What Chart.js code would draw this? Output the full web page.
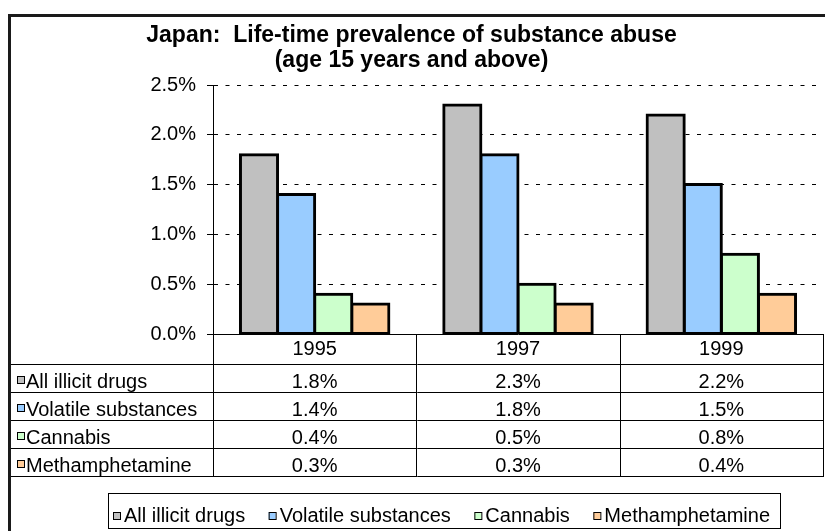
<!DOCTYPE html>
<html>
<head>
<meta charset="utf-8">
<script src="https://cdn.jsdelivr.net/npm/chart.js@4.4.0/dist/chart.umd.min.js"></script>
<style>
html,body{margin:0;padding:0;background:#fff;}
#wrap{width:825px;height:531px;}
</style>
</head>
<body>
<div id="wrap"><canvas id="c" width="825" height="531"></canvas></div>
<script>
const titleLines = ['Japan:  Life-time prevalence of substance abuse', '(age 15 years and above)'];
const years = ['1995', '1997', '1999'];
const seriesNames = ['All illicit drugs', 'Volatile substances', 'Cannabis', 'Methamphetamine'];
const allIllicit = [1.8, 2.3, 2.2];
const volatileSubst = [1.4, 1.8, 1.5];
const cannabis = [0.4, 0.5, 0.8];
const methamphetamine = [0.3, 0.3, 0.4];
const yTickValues = [0, 0.5, 1.0, 1.5, 2.0, 2.5];
const seriesColors = ['#C0C0C0', '#99CCFF', '#CCFFCC', '#FFCC99'];

const FONT = '"Liberation Sans", Arial, sans-serif';
const seriesValues = [allIllicit, volatileSubst, cannabis, methamphetamine];

const bgPlugin = {
  id: 'bg',
  beforeDraw(chart) {
    const ctx = chart.ctx;
    ctx.save();
    ctx.fillStyle = '#fff';
    ctx.fillRect(0, 0, chart.width, chart.height);
    ctx.restore();
  }
};

const tablePlugin = {
  id: 'dataTable',
  afterDraw(chart) {
    const ctx = chart.ctx, ca = chart.chartArea, xs = chart.scales.x;
    const headerH = 30, rowH = 28, frameX = 11;
    const ds = chart.data.datasets;
    const n = chart.data.labels.length;
    const top = ca.bottom, hdrBottom = top + headerH;
    const bottom = hdrBottom + rowH * ds.length;
    const half = (xs.getPixelForValue(1) - xs.getPixelForValue(0)) / 2;
    ctx.save();
    // outer frame
    ctx.fillStyle = '#1a1a1a';
    ctx.fillRect(8, 14, 3, chart.height);
    ctx.fillRect(8, 14, chart.width, 3);
    // grid of table
    ctx.strokeStyle = '#000';
    ctx.lineWidth = 1;
    ctx.beginPath();
    const vx = [ca.left];
    for (let i = 0; i < n; i++) vx.push(xs.getPixelForValue(i) + half);
    vx.forEach(x => { const px = Math.round(x) + 0.5; ctx.moveTo(px, top); ctx.lineTo(px, bottom + 0.5); });
    for (let r = 0; r <= ds.length; r++) {
      const y = Math.round(hdrBottom + r * rowH) + 0.5;
      ctx.moveTo(frameX, y); ctx.lineTo(Math.round(ca.right) + 1, y);
    }
    ctx.stroke();
    // cells
    ctx.font = '20px ' + FONT;
    ctx.textBaseline = 'alphabetic';
    ds.forEach((d, r) => {
      const rowTop = hdrBottom + r * rowH;
      const yc = rowTop + rowH / 2;
      ctx.fillStyle = d.backgroundColor;
      ctx.fillRect(17, yc - 2, 7, 7);
      ctx.strokeStyle = '#000';
      ctx.strokeRect(17.5, yc - 1.5, 7, 7);
      ctx.fillStyle = '#000';
      ctx.textAlign = 'left';
      ctx.fillText(d.label, 26, rowTop + 23.5);
      ctx.textAlign = 'center';
      d.data.forEach((v, i) => {
        ctx.fillText(v.toFixed(1) + '%', xs.getPixelForValue(i), rowTop + 23.5);
      });
    });
    // legend box
    const lx = 108, ly = 493, lw = 672, lh = 35;
    ctx.strokeStyle = '#000';
    ctx.lineWidth = 1;
    ctx.strokeRect(lx + 0.5, ly + 0.5, lw, lh);
    ctx.font = '20px ' + FONT;
    ctx.textAlign = 'left';
    const mk = 7, mgap = 4;
    const widths = ds.map(d => ctx.measureText(d.label).width);
    const startX = lx + 5, endX = lx + lw - 10;
    const used = widths.reduce((a, b) => a + b, 0) + ds.length * (mk + mgap);
    const gap = Math.max(6, (endX - startX - used) / (ds.length - 1));
    let x = startX;
    const baseY = ly + 29;
    ds.forEach((d, i) => {
      ctx.fillStyle = d.backgroundColor;
      ctx.fillRect(x, baseY - 10, mk, mk);
      ctx.strokeStyle = '#000';
      ctx.strokeRect(x + 0.5, baseY - 9.5, mk, mk);
      ctx.fillStyle = '#000';
      ctx.fillText(d.label, x + mk + mgap, baseY);
      x += mk + mgap + widths[i] + gap;
    });
    ctx.restore();
  }
};

const datasets = seriesNames.map((name, i) => ({
  label: name,
  data: seriesValues[i],
  backgroundColor: seriesColors[i],
  borderColor: '#000',
  borderWidth: 3,
  borderSkipped: false,
  inflateAmount: 1.5,
  categoryPercentage: 0.73,
  barPercentage: 1.0
}));

new Chart(document.getElementById('c'), {
  type: 'bar',
  data: { labels: years, datasets: datasets },
  options: {
    responsive: false,
    animation: false,
    devicePixelRatio: 1,
    layout: { padding: { left: 0, right: 2, top: 17, bottom: 0 } },
    plugins: {
      legend: { display: false },
      tooltip: { enabled: false },
      title: {
        display: true,
        text: titleLines,
        color: '#000',
        font: { family: FONT, size: 23, weight: 'bold', lineHeight: 1.087 },
        padding: { top: 6.5, bottom: 11.5 }
      }
    },
    scales: {
      x: {
        type: 'category',
        offset: true,
        grid: { display: false, drawTicks: false, drawOnChartArea: false },
        border: { display: true, color: '#000', width: 1 },
        ticks: { color: '#000', font: { family: FONT, size: 20 }, padding: 3, maxRotation: 0, autoSkip: false },
        afterFit(s) { s.height = 197; }
      },
      y: {
        min: 0,
        max: 2.5,
        afterBuildTicks(s) { s.ticks = yTickValues.map(v => ({ value: v })); },
        ticks: {
          color: '#000',
          font: { family: FONT, size: 20 },
          padding: 11,
          callback: v => Number(v).toFixed(1) + '%'
        },
        grid: { color: '#000', lineWidth: 1, drawTicks: true, tickLength: 6, tickColor: '#000', tickWidth: 1 },
        border: { display: true, color: '#000', width: 1, dash: [4, 7.5] },
        afterFit(s) { s.width = 213; }
      }
    }
  },
  plugins: [bgPlugin, tablePlugin]
});
</script>
</body>
</html>
